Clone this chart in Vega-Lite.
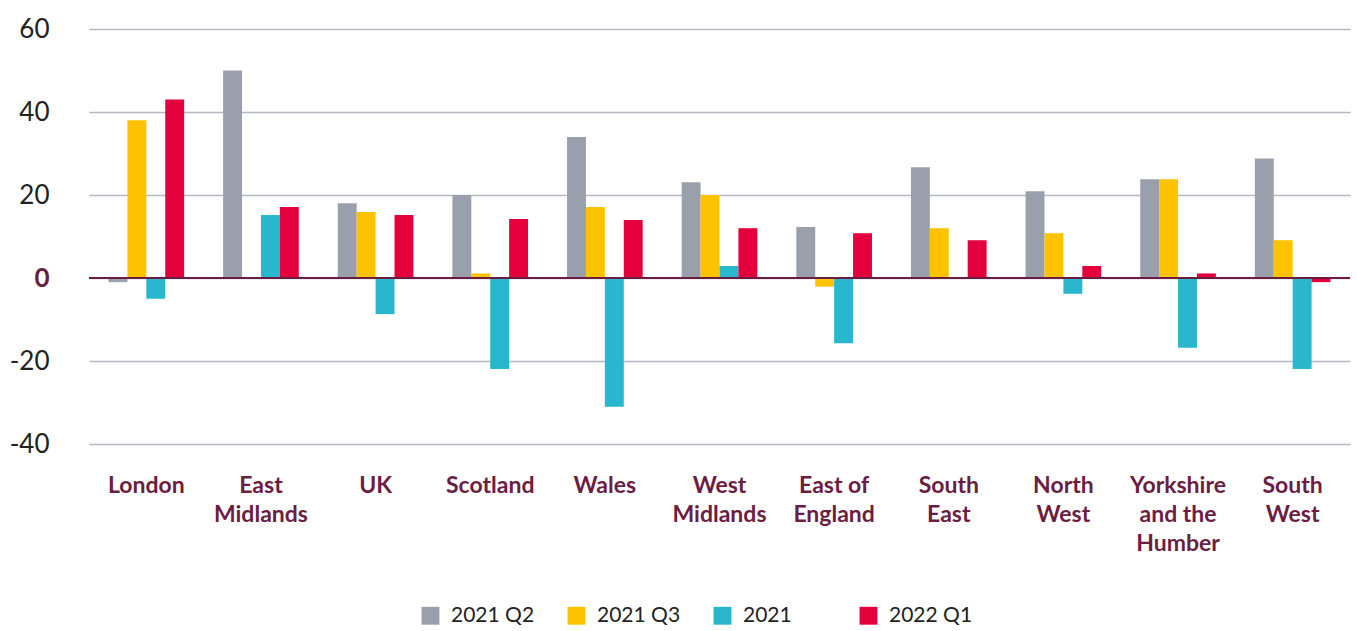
{
  "$schema": "https://vega.github.io/schema/vega-lite/v6.json",
  "autosize": {"type": "none"},
  "padding": {"left": 89, "top": 29, "right": 7, "bottom": 187},
  "width": 1261,
  "height": 415,
  "background": "white",
  "config": {"view": {"stroke": null}, "font": "Lato"},
  "datasets": {
    "rows": [
      {"region": "London", "period": "2021 Q2", "value": -1},
      {"region": "London", "period": "2021 Q3", "value": 38},
      {"region": "London", "period": "2021", "value": -5},
      {"region": "London", "period": "2022 Q1", "value": 43},
      {"region": "East Midlands", "period": "2021 Q2", "value": 50},
      {"region": "East Midlands", "period": "2021 Q3", "value": 0},
      {"region": "East Midlands", "period": "2021", "value": 15.2},
      {"region": "East Midlands", "period": "2022 Q1", "value": 17.1},
      {"region": "UK", "period": "2021 Q2", "value": 18},
      {"region": "UK", "period": "2021 Q3", "value": 15.9},
      {"region": "UK", "period": "2021", "value": -8.7},
      {"region": "UK", "period": "2022 Q1", "value": 15.2},
      {"region": "Scotland", "period": "2021 Q2", "value": 20},
      {"region": "Scotland", "period": "2021 Q3", "value": 1.1},
      {"region": "Scotland", "period": "2021", "value": -21.9},
      {"region": "Scotland", "period": "2022 Q1", "value": 14.2},
      {"region": "Wales", "period": "2021 Q2", "value": 34},
      {"region": "Wales", "period": "2021 Q3", "value": 17.1},
      {"region": "Wales", "period": "2021", "value": -31},
      {"region": "Wales", "period": "2022 Q1", "value": 14},
      {"region": "West Midlands", "period": "2021 Q2", "value": 23.1},
      {"region": "West Midlands", "period": "2021 Q3", "value": 20},
      {"region": "West Midlands", "period": "2021", "value": 2.9},
      {"region": "West Midlands", "period": "2022 Q1", "value": 12},
      {"region": "East of England", "period": "2021 Q2", "value": 12.3},
      {"region": "East of England", "period": "2021 Q3", "value": -2.1},
      {"region": "East of England", "period": "2021", "value": -15.7},
      {"region": "East of England", "period": "2022 Q1", "value": 10.8},
      {"region": "South East", "period": "2021 Q2", "value": 26.7},
      {"region": "South East", "period": "2021 Q3", "value": 12},
      {"region": "South East", "period": "2021", "value": 0},
      {"region": "South East", "period": "2022 Q1", "value": 9.1},
      {"region": "North West", "period": "2021 Q2", "value": 20.9},
      {"region": "North West", "period": "2021 Q3", "value": 10.8},
      {"region": "North West", "period": "2021", "value": -3.8},
      {"region": "North West", "period": "2022 Q1", "value": 2.9},
      {"region": "Yorkshire and the Humber", "period": "2021 Q2", "value": 23.8},
      {"region": "Yorkshire and the Humber", "period": "2021 Q3", "value": 23.8},
      {"region": "Yorkshire and the Humber", "period": "2021", "value": -16.8},
      {"region": "Yorkshire and the Humber", "period": "2022 Q1", "value": 1.1},
      {"region": "South West", "period": "2021 Q2", "value": 28.8},
      {"region": "South West", "period": "2021 Q3", "value": 9.1},
      {"region": "South West", "period": "2021", "value": -21.9},
      {"region": "South West", "period": "2022 Q1", "value": -1}
    ]
  },
  "data": {"name": "rows"},
  "layer": [
    {
      "mark": {"type": "bar", "cornerRadius": 0},
      "encoding": {
        "x": {
          "field": "region",
          "type": "nominal",
          "sort": null,
          "scale": {"paddingInner": 0.34, "paddingOuter": 0.17},
          "axis": {
            "title": null,
            "domain": false,
            "ticks": false,
            "labelAngle": 0,
            "labelPadding": 48,
            "labelFontSize": 23,
            "labelFontWeight": "bold",
            "labelColor": "#6b1d42",
            "labelLineHeight": 29,
            "labelBaseline": "alphabetic",
            "labelExpr": "datum.value == 'East of England' ? ['East of', 'England'] : datum.value == 'Yorkshire and the Humber' ? ['Yorkshire', 'and the', 'Humber'] : split(datum.value, ' ')"
          }
        },
        "xOffset": {
          "field": "period",
          "type": "nominal",
          "sort": null,
          "scale": {"paddingInner": 0, "paddingOuter": 0}
        },
        "y": {
          "field": "value",
          "type": "quantitative",
          "scale": {"domain": [-40, 60], "nice": false, "zero": false},
          "axis": {
            "title": null,
            "values": [-40, -20, 0, 20, 40, 60],
            "domain": false,
            "ticks": false,
            "labelPadding": 40,
            "labelFontSize": 26,
            "labelFont": "Lato",
            "labelExpr": "datum.value < 0 ? '-' + abs(datum.value) : '' + datum.value",
            "labelColor": {"condition": {"test": "datum.value == 0", "value": "#6b1d42"}, "value": "#222222"},
            "labelFontWeight": {"condition": {"test": "datum.value == 0", "value": "bold"}, "value": "normal"},
            "grid": true,
            "gridColor": "#b4b9c1",
            "gridWidth": 1.5
          }
        },
        "color": {
          "field": "period",
          "type": "nominal",
          "sort": null,
          "scale": {
            "domain": ["2021 Q2", "2021 Q3", "2021", "2022 Q1"],
            "range": ["#99a0ac", "#fdc300", "#29b7ce", "#e4003d"]
          },
          "legend": {
            "title": null,
            "orient": "none",
            "legendX": 331,
            "legendY": 576,
            "direction": "horizontal",
            "columns": 4,
            "symbolType": "square",
            "symbolSize": 320,
            "symbolStrokeWidth": 0,
            "labelFontSize": 21,
            "labelColor": "#222222",
            "labelOffset": 10,
            "columnPadding": 31,
            "gridAlign": "all"
          }
        }
      }
    },
    {
      "mark": {"type": "rule", "color": "#6b1d42", "strokeWidth": 1.5},
      "encoding": {"y": {"datum": 0}}
    }
  ]
}
